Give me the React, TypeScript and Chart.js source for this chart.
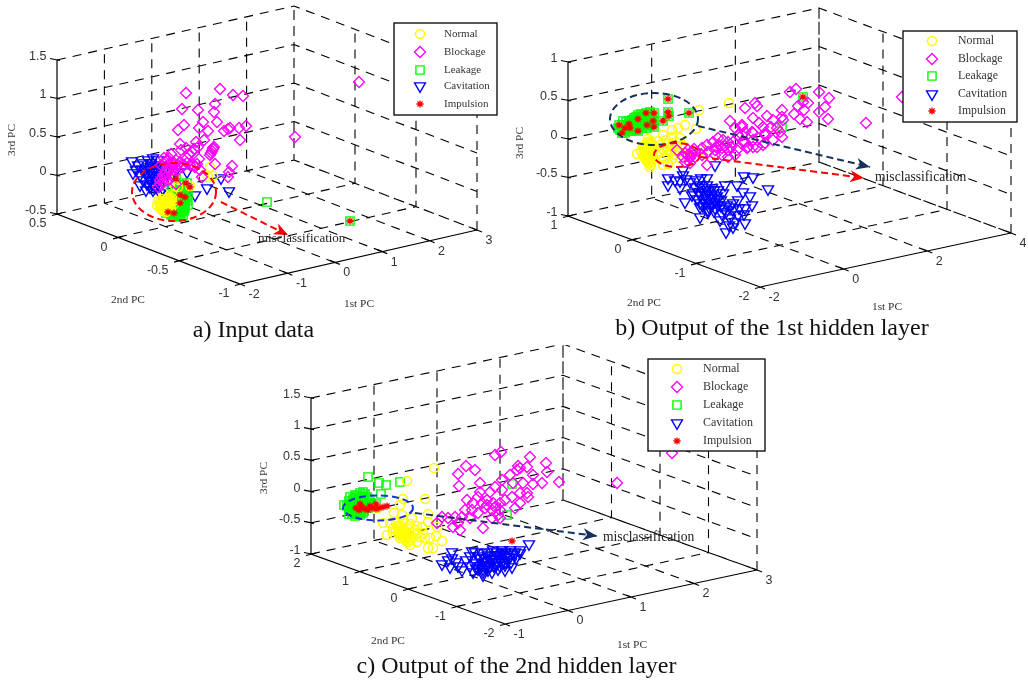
import React, { useEffect, useRef } from "react";
import { Chart, registerables } from "chart.js";
import { drawPoint } from "chart.js/helpers";

Chart.register(...registerables);

type XY = [number, number];

const classNames = ["Normal", "Blockage", "Leakage", "Cavitation", "Impulsion"];

// Panel a: input data, as projected onto the picture plane
const aNormal: XY[] = [[210,167],[208,177],[213,176],[170,187],[175,186],[190,186],[178,187],[160,203],[162,205],[165,206],[168,203],[165,200],[163,208],[167,209],[170,206],[172,202],[168,198],[172,198],[175,200],[160,207],[158,201],[162,199],[164,203],[160,205],[166,204],[168,207],[163,211],[166,212],[171,209],[174,204],[171,200],[169,196],[173,195],[157,205],[161,209],[161,201],[163,201],[165,202],[167,201],[169,201],[161,203],[163,205],[165,204],[167,203],[169,205],[162,207],[164,206],[166,207],[168,209],[170,203],[164,209],[166,209],[170,198],[167,199]];
const aBlockage: XY[] = [[186,93],[220,89],[233,95],[243,96],[182,109],[198,110],[215,104],[214,112],[217,122],[184,125],[178,130],[199,128],[203,122],[208,131],[224,131],[230,128],[228,129],[239,128],[246,126],[240,140],[204,140],[180,144],[181,150],[196,142],[186,148],[199,159],[215,164],[232,166],[229,172],[228,177],[210,155],[213,149],[212,151],[213,148],[214,147],[211,153],[192,152],[194,149],[189,154],[187,158],[198,147],[171,154],[168,160],[165,162],[172,163],[176,160],[180,162],[187,163],[190,165],[195,167],[200,170],[202,177],[182,167],[175,167],[167,168],[163,175],[160,180],[158,187],[163,183],[168,180],[178,170],[170,165],[174,170],[166,172],[172,176],[176,184],[161,165],[164,158],[169,158],[175,164],[178,165],[184,165],[193,165],[197,164],[170,170],[162,178],[165,178],[160,184],[359,82],[295,137]];
const aLeakage: XY[] = [[176,179],[187,183],[172,190],[178,190],[184,190],[172,195],[178,196],[184,196],[188,195],[176,200],[182,201],[187,201],[176,205],[182,206],[188,205],[170,210],[176,211],[182,211],[166,213],[172,214],[179,214],[183,216],[175,193],[181,193],[186,192],[174,198],[179,199],[185,199],[179,203],[185,203],[173,208],[179,208],[185,208],[169,213],[175,213],[181,213],[178,217],[180,185],[177,192],[180,190],[183,192],[176,195],[180,196],[183,197],[178,201],[181,199],[184,201],[178,205],[181,204],[184,206],[175,207],[177,209],[181,209],[183,209],[172,211],[174,211],[178,212],[180,211],[184,211],[171,215],[173,216],[176,215],[180,216],[267,202],[350,221]];
const aCavitation: XY[] = [[132,161],[138,165],[143,163],[148,160],[153,158],[158,160],[136,170],[142,169],[148,167],[154,165],[160,165],[133,173],[140,175],[146,173],[152,172],[158,172],[164,170],[143,180],[149,178],[155,178],[161,176],[140,185],[147,184],[153,184],[159,186],[146,190],[153,190],[160,193],[168,172],[170,178],[151,163],[145,170],[150,170],[156,168],[147,176],[152,175],[158,176],[150,181],[156,181],[150,187],[156,187],[163,189],[195,195],[207,188],[221,178],[229,191],[175,172],[187,172]];
const aImpulsion: XY[] = [[176,179],[186,183],[180,195],[190,187],[168,212],[180,203],[185,197],[174,213],[350,221]];

// Panel b: output of the 1st hidden layer
const bNormal: XY[] = [[729,103],[699,110],[678,128],[696,129],[685,125],[672,130],[663,135],[658,141],[672,137],[680,138],[637,154],[668,164],[663,165],[667,150],[675,150],[685,147],[687,157],[702,150],[645,145],[648,142],[651,145],[645,150],[650,150],[654,150],[643,155],[647,155],[652,155],[648,160],[652,160],[648,163],[651,165],[656,154],[660,145],[664,150],[668,144],[672,145],[668,155],[675,155],[680,152],[664,158],[648,139],[651,141],[643,147],[647,147],[655,146],[641,151],[646,153],[650,153],[654,158],[645,158],[650,167],[666,140],[676,142],[682,145],[670,150],[660,152],[672,159],[680,158],[647,143],[649,145],[652,147],[644,149],[647,150],[650,148],[653,148],[645,152],[648,152],[652,152],[644,157],[647,158],[650,156],[653,156],[646,160],[650,161],[649,158],[650,163]];
const bBlockage: XY[] = [[745,108],[755,103],[757,106],[767,116],[753,118],[730,121],[742,125],[759,123],[763,127],[735,128],[752,132],[745,132],[765,135],[738,135],[723,140],[718,138],[713,142],[707,145],[728,142],[733,142],[753,140],[743,142],[763,145],[753,147],[747,148],[737,150],[728,150],[722,148],[715,150],[708,152],[702,148],[707,165],[728,157],[735,155],[722,155],[715,155],[702,155],[690,158],[695,157],[683,157],[688,150],[677,150],[685,153],[692,153],[685,162],[773,120],[771,127],[782,110],[782,117],[790,92],[796,89],[819,92],[829,98],[798,106],[803,102],[808,103],[804,110],[825,107],[819,112],[794,114],[800,119],[807,122],[828,119],[866,123],[783,120],[780,132],[782,137],[773,140],[765,143],[757,147],[748,147],[753,133],[765,133],[742,127],[742,135],[745,142],[777,128],[902,97],[719,145],[725,146],[731,147],[716,147],[691,156],[688,155],[694,149],[690,163]];
const bLeakage: XY[] = [[668,99],[668,112],[669,116],[689,113],[663,121],[654,113],[653,121],[647,125],[654,127],[646,113],[638,119],[638,131],[629,124],[630,128],[619,125],[622,133],[625,128],[622,125],[626,122],[632,120],[636,117],[641,114],[645,116],[650,112],[640,122],[645,122],[634,125],[628,131],[633,128],[642,128],[648,120],[652,116],[618,128],[620,130],[625,133],[636,130],[644,124],[650,125],[623,121],[628,126],[631,124],[634,122],[637,124],[640,126],[643,120],[638,115],[646,119],[650,118],[641,118],[634,118],[627,129],[631,131],[647,128],[652,124],[622,128],[624,130],[626,125],[629,121],[631,127],[633,120],[635,127],[636,121],[639,124],[639,117],[641,120],[642,124],[643,117],[644,115],[645,126],[646,122],[648,116],[648,122],[650,114],[651,120],[651,116],[652,122],[803,97],[782,127]];
const bCavitation: XY[] = [[683,170],[683,175],[668,178],[668,185],[675,180],[680,188],[690,182],[707,178],[707,185],[725,185],[737,185],[744,176],[753,177],[768,189],[715,165],[738,200],[750,196],[743,192],[685,202],[692,195],[700,217],[708,212],[726,232],[733,227],[745,223],[720,220],[700,207],[695,187],[700,185],[706,190],[712,188],[718,190],[693,193],[699,192],[705,195],[711,194],[717,196],[723,193],[697,199],[703,200],[709,201],[715,202],[721,200],[703,206],[709,207],[715,208],[721,206],[727,205],[733,203],[726,212],[733,210],[739,208],[745,208],[722,214],[730,218],[738,215],[744,214],[752,205],[735,222],[729,225],[680,181],[686,179],[696,180],[701,178],[702,188],[708,192],[714,190],[700,195],[706,198],[712,198],[718,199],[700,203],[706,203],[712,205],[718,205],[708,210],[714,211],[724,209],[730,207]];
const bImpulsion: XY[] = [[668,99],[668,112],[669,116],[689,113],[663,121],[654,113],[653,121],[647,125],[654,127],[646,113],[638,119],[638,131],[629,124],[630,128],[619,125],[622,133],[625,128],[803,97]];

// Panel c: output of the 2nd hidden layer
const cNormal: XY[] = [[434,468],[407,481],[425,499],[403,499],[400,505],[394,513],[402,515],[383,523],[387,535],[442,541],[428,548],[433,548],[417,542],[430,538],[437,527],[428,522],[422,527],[415,530],[423,533],[412,518],[400,525],[393,528],[407,528],[398,533],[403,538],[408,542],[410,545],[400,538],[393,533],[405,532],[413,537],[420,537],[390,523],[428,514],[377,508],[396,523],[403,522],[410,524],[396,530],[402,530],[409,534],[402,535],[406,537],[411,540],[405,540],[399,535],[417,533],[417,526],[425,538],[436,536],[400,531],[403,533],[406,535],[404,529],[401,527],[397,526],[408,538],[404,536]];
const cBlockage: XY[] = [[495,455],[501,452],[466,466],[475,470],[458,474],[459,486],[530,457],[546,463],[547,472],[559,482],[617,483],[542,483],[533,475],[533,484],[527,467],[518,466],[520,468],[517,470],[510,475],[502,480],[480,483],[527,493],[528,497],[520,493],[513,483],[523,483],[512,497],[502,490],[495,487],[480,492],[478,497],[490,492],[467,500],[473,503],[482,503],[487,500],[493,503],[500,503],[505,500],[520,503],[515,508],[500,510],[492,510],[485,508],[478,513],[472,510],[465,510],[462,517],[470,518],[455,517],[448,518],[442,517],[458,523],[453,527],[460,530],[483,528],[500,518],[492,518],[498,515],[487,505],[495,507],[437,523],[672,453]];
const cLeakage: XY[] = [[368,477],[379,483],[386,485],[400,482],[381,494],[376,504],[363,492],[344,505],[350,497],[355,495],[360,493],[365,494],[352,502],[358,501],[364,500],[369,499],[347,506],[353,507],[359,506],[365,505],[371,503],[352,512],[358,512],[364,511],[355,516],[360,515],[368,508],[349,501],[355,498],[361,497],[367,497],[355,504],[361,503],[350,509],[356,509],[362,509],[367,504],[349,514],[355,513],[361,513],[353,499],[357,496],[359,499],[363,496],[351,504],[354,501],[357,503],[360,501],[363,503],[349,507],[352,509],[354,506],[357,507],[360,508],[362,505],[365,508],[352,514],[355,511],[357,514],[360,511],[363,513],[507,515],[512,484]];
const cCavitation: XY[] = [[529,544],[452,552],[472,551],[482,553],[442,564],[450,567],[462,570],[483,575],[505,570],[502,550],[520,550],[452,558],[456,562],[448,560],[458,566],[466,560],[470,556],[475,552],[480,558],[476,563],[470,566],[482,565],[488,562],[492,556],[487,552],[493,550],[497,555],[500,560],[494,566],[488,570],[478,569],[500,566],[505,562],[510,557],[505,552],[510,550],[515,552],[520,553],[516,558],[511,562],[505,565],[512,567],[498,569],[492,572],[483,572],[473,572],[478,556],[484,558],[490,560],[495,558],[500,555],[505,557],[484,562],[490,566],[496,562],[502,563],[508,560],[480,566],[486,568],[514,555],[508,553],[476,568],[497,552],[502,553],[488,555],[492,559],[496,565],[487,565],[483,569]];
const cImpulsion: XY[] = [[356,508],[359,510],[362,507],[365,509],[368,510],[372,508],[376,509],[379,508],[383,507],[387,506],[360,504],[376,504],[370,506],[512,541]];

// Axis ticks
const aTicks1 = [-2, -1, 0, 1, 2, 3];
const aTicks2 = [-1, -0.5, 0, 0.5];
const aTicks3 = [-0.5, 0, 0.5, 1, 1.5];
const bTicks1 = [-2, 0, 2, 4];
const bTicks2 = [-2, -1, 0, 1];
const bTicks3 = [-1, -0.5, 0, 0.5, 1];
const cTicks1 = [-1, 0, 1, 2, 3];
const cTicks2 = [-2, -1, 0, 1, 2];
const cTicks3 = [-1, -0.5, 0, 0.5, 1, 1.5];

const colors = { yellow: "#ffff00", magenta: "#ff00ff", green: "#00ff00", blue: "#0000ff", red: "#ff0000", navy: "#17315f", ringBlue: "#1236d8" };
const SERIF = '"Liberation Serif", "Times New Roman", serif';
const SANS = '"Liberation Sans", Arial, sans-serif';
const TICK_COLOR = "#333333";

type Panel = {
  box: { left: number; top: number; w: number; h: number };
  F: XY; L: XY; R: XY; H: number;
  t1: number[]; t2: number[]; t3: number[];
  series: XY[][];
  ellipses: { c: XY; rx: number; ry: number; color: string }[];
  arrows: { from: XY; to: XY; color: string }[];
  note: { x: number; y: number; size: number };
  legend: { x0: number; y0: number; x1: number; y1: number; mx: number; tx: number; rows: number[]; size: number };
  labels: { third: XY; second: XY; first: XY };
  caption: { text: string; x: number; y: number };
};

const panels: Panel[] = [
  {
    box: { left: 0, top: 0, w: 505, h: 345 },
    F: [240, 284], L: [57, 214], R: [477, 230], H: 154,
    t1: aTicks1, t2: aTicks2, t3: aTicks3,
    series: [aNormal, aBlockage, aLeakage, aCavitation, aImpulsion],
    ellipses: [{ c: [174, 192], rx: 42, ry: 29, color: colors.red }],
    arrows: [{ from: [221, 202], to: [288, 235], color: colors.red }],
    note: { x: 258, y: 239, size: 13 },
    legend: { x0: 394, y0: 23, x1: 497, y1: 115, mx: 420, tx: 444, rows: [34, 52, 70, 86, 104], size: 11 },
    labels: { third: [12, 140], second: [128, 300], first: [359, 304] },
    caption: { text: "a) Input data", x: 253.5, y: 331 },
  },
  {
    box: { left: 505, top: 0, w: 523, h: 345 },
    F: [760, 287], L: [568, 216], R: [1011, 233], H: 154,
    t1: bTicks1, t2: bTicks2, t3: bTicks3,
    series: [bNormal, bBlockage, bLeakage, bCavitation, bImpulsion],
    ellipses: [
      { c: [654, 119], rx: 44, ry: 26, color: colors.navy },
      { c: [677, 155], rx: 23, ry: 12, color: colors.red },
    ],
    arrows: [
      { from: [698, 126], to: [870, 167], color: colors.navy },
      { from: [701, 157], to: [864, 178], color: colors.red },
    ],
    note: { x: 875, y: 177, size: 13.6 },
    legend: { x0: 903, y0: 31, x1: 1017, y1: 122, mx: 932, tx: 958, rows: [41, 59, 76, 94, 111], size: 11.8 },
    labels: { third: [520, 143], second: [644, 303], first: [887, 307] },
    caption: { text: "b) Output of the 1st hidden layer", x: 772, y: 329 },
  },
  {
    box: { left: 260, top: 345, w: 540, h: 336 },
    F: [505, 624], L: [311, 554], R: [757, 570], H: 156,
    t1: cTicks1, t2: cTicks2, t3: cTicks3,
    series: [cNormal, cBlockage, cLeakage, cCavitation, cImpulsion],
    ellipses: [{ c: [378, 508], rx: 35, ry: 12.5, color: colors.ringBlue }],
    arrows: [{ from: [415, 513], to: [597, 536], color: colors.navy }],
    note: { x: 603, y: 537, size: 13.6 },
    legend: { x0: 648, y0: 359, x1: 765, y1: 451, mx: 677, tx: 703, rows: [369, 387, 405, 423, 441], size: 12 },
    labels: { third: [264, 478], second: [388, 641], first: [632, 645] },
    caption: { text: "c) Output of the 2nd hidden layer", x: 516.5, y: 667 },
  },
];

const markers = [
  { pointStyle: "circle", radius: 4.5, rotation: 0, color: colors.yellow, width: 1.4 },
  { pointStyle: "rectRot", radius: 5.5, rotation: 0, color: colors.magenta, width: 1.3 },
  { pointStyle: "rect", radius: 5.8, rotation: 0, color: colors.green, width: 1.4 },
  { pointStyle: "triangle", radius: 6.3, rotation: 180, color: colors.blue, width: 1.4 },
  { pointStyle: "star", radius: 3.6, rotation: 0, color: colors.red, width: 1.3 },
];
const drawOrder = [30, 20, 40, 50, 10];

function project(p: Panel, a: number, b: number, c: number): { x: number; y: number } {
  const t1 = p.t1, t2 = p.t2, t3 = p.t3;
  const u = (a - t1[0]) / (t1[t1.length - 1] - t1[0]);
  const v = (b - t2[0]) / (t2[t2.length - 1] - t2[0]);
  const w = (c - t3[0]) / (t3[t3.length - 1] - t3[0]);
  return {
    x: p.F[0] + u * (p.R[0] - p.F[0]) + v * (p.L[0] - p.F[0]),
    y: p.F[1] + u * (p.R[1] - p.F[1]) + v * (p.L[1] - p.F[1]) - w * p.H,
  };
}

const gap = { x: NaN, y: NaN };

function gridLines(p: Panel) {
  const [a0, a1] = [p.t1[0], p.t1[p.t1.length - 1]];
  const [b0, b1] = [p.t2[0], p.t2[p.t2.length - 1]];
  const [c0, c1] = [p.t3[0], p.t3[p.t3.length - 1]];
  const out: { x: number; y: number }[] = [];
  p.t1.forEach((a) => {
    if (a !== a0) out.push(project(p, a, b0, c0), project(p, a, b1, c0), project(p, a, b1, c1), gap);
  });
  p.t2.forEach((b) => {
    if (b !== b0) out.push(project(p, a0, b, c0), project(p, a1, b, c0), project(p, a1, b, c1), gap);
    else out.push(project(p, a1, b, c0), project(p, a1, b, c1), gap);
  });
  p.t3.forEach((c) => {
    out.push(project(p, a0, b1, c), project(p, a1, b1, c), project(p, a1, b0, c), gap);
  });
  return out;
}

function axisLines(p: Panel) {
  const [a0, a1] = [p.t1[0], p.t1[p.t1.length - 1]];
  const [b0, b1] = [p.t2[0], p.t2[p.t2.length - 1]];
  const [c0, c1] = [p.t3[0], p.t3[p.t3.length - 1]];
  const out: { x: number; y: number }[] = [
    project(p, a0, b1, c1), project(p, a0, b1, c0), project(p, a0, b0, c0), project(p, a1, b0, c0), gap,
  ];
  p.t3.forEach((c) => {
    const q = project(p, a0, b1, c);
    out.push({ x: q.x - 7, y: q.y - 1.5 }, { x: q.x + 3, y: q.y + 0.5 }, gap);
  });
  p.t2.forEach((b) => {
    const q = project(p, a0, b, c0);
    out.push({ x: q.x - 5, y: q.y + 1.5 }, { x: q.x + 5, y: q.y - 1 }, gap);
  });
  p.t1.forEach((a) => {
    const q = project(p, a, b0, c0);
    out.push({ x: q.x - 5, y: q.y - 2 }, { x: q.x + 5, y: q.y + 2 }, gap);
  });
  return out;
}

function panelPlugin(p: Panel) {
  return {
    id: "panelDecor",
    afterDatasetsDraw(chart: any) {
      const ctx: CanvasRenderingContext2D = chart.ctx;
      const sx = chart.scales.x;
      const sy = chart.scales.y;
      const X = (v: number) => sx.getPixelForValue(v);
      const Y = (v: number) => sy.getPixelForValue(v);
      ctx.save();

      p.ellipses.forEach((e) => {
        ctx.beginPath();
        ctx.ellipse(X(e.c[0]), Y(e.c[1]), e.rx, e.ry, 0, 0, Math.PI * 2);
        ctx.strokeStyle = e.color;
        ctx.lineWidth = 2;
        ctx.setLineDash([7, 4]);
        ctx.stroke();
      });
      ctx.setLineDash([]);

      // arrow heads
      p.arrows.forEach((a) => {
        const tx = X(a.to[0]);
        const ty = Y(a.to[1]);
        const ang = Math.atan2(Y(a.to[1]) - Y(a.from[1]), X(a.to[0]) - X(a.from[0]));
        ctx.save();
        ctx.translate(tx, ty);
        ctx.rotate(ang);
        ctx.beginPath();
        ctx.moveTo(0, 0);
        ctx.lineTo(-14, -6);
        ctx.lineTo(-10, 0);
        ctx.lineTo(-14, 6);
        ctx.closePath();
        ctx.fillStyle = a.color;
        ctx.fill();
        ctx.restore();
      });

      // tick labels
      ctx.fillStyle = TICK_COLOR;
      ctx.font = `12.5px ${SANS}`;
      ctx.textBaseline = "middle";
      ctx.textAlign = "right";
      p.t3.forEach((c) => {
        const q = project(p, p.t1[0], p.t2[p.t2.length - 1], c);
        ctx.fillText(String(c), X(q.x) - 10.5, Y(q.y) - 3.5);
      });
      p.t2.forEach((b) => {
        const q = project(p, p.t1[0], b, p.t3[0]);
        ctx.fillText(String(b), X(q.x) - 10.5, Y(q.y) + 10);
      });
      ctx.textAlign = "left";
      p.t1.forEach((a) => {
        const q = project(p, a, p.t2[0], p.t3[0]);
        ctx.fillText(String(a), X(q.x) + 8.5, Y(q.y) + 10.5);
      });

      // axis titles
      ctx.textAlign = "center";
      ctx.font = `11.4px ${SERIF}`;
      ctx.fillStyle = TICK_COLOR;
      ctx.fillText("2nd PC", X(p.labels.second[0]), Y(p.labels.second[1]));
      ctx.fillText("1st PC", X(p.labels.first[0]), Y(p.labels.first[1]));
      ctx.save();
      ctx.translate(X(p.labels.third[0]), Y(p.labels.third[1]));
      ctx.rotate(-Math.PI / 2);
      ctx.fillText("3rd PC", 0, 0);
      ctx.restore();

      // callout
      ctx.textAlign = "left";
      ctx.font = `${p.note.size}px ${SERIF}`;
      ctx.fillStyle = "#222222";
      ctx.fillText("misclassification", X(p.note.x), Y(p.note.y));

      // legend
      const lg = p.legend;
      ctx.fillStyle = "#ffffff";
      ctx.fillRect(X(lg.x0), Y(lg.y0), lg.x1 - lg.x0, lg.y1 - lg.y0);
      ctx.strokeStyle = "#000000";
      ctx.lineWidth = 1.3;
      ctx.strokeRect(X(lg.x0), Y(lg.y0), lg.x1 - lg.x0, lg.y1 - lg.y0);
      classNames.forEach((name, i) => {
        const m = markers[i];
        ctx.save();
        ctx.strokeStyle = m.color;
        ctx.fillStyle = "rgba(0,0,0,0)";
        ctx.lineWidth = m.width;
        drawPoint(ctx, { pointStyle: m.pointStyle, radius: m.radius, rotation: m.rotation, borderWidth: m.width } as any, X(lg.mx), Y(lg.rows[i]));
        ctx.restore();
        ctx.fillStyle = TICK_COLOR;
        ctx.font = `${lg.size}px ${SERIF}`;
        ctx.fillText(name, X(lg.tx), Y(lg.rows[i]));
      });

      // caption
      ctx.textAlign = "center";
      ctx.fillStyle = "#111111";
      ctx.font = `24px ${SERIF}`;
      ctx.fillText(p.caption.text, X(p.caption.x), Y(p.caption.y));
      ctx.restore();
    },
  };
}

function buildDatasets(p: Panel) {
  const line = (label: string, data: any[], order: number, color: string, width: number, dash: number[]) => ({
    label, data, order, showLine: true, borderColor: color, borderWidth: width, borderDash: dash,
    pointRadius: 0, fill: false, spanGaps: false, tension: 0,
  });
  const sets: any[] = [
    line("grid", gridLines(p), 100, "#000000", 1.1, [9, 7]),
    line("axes", axisLines(p), 90, "#000000", 1.2, []),
  ];
  p.series.forEach((pts, i) => {
    const m = markers[i];
    sets.push({
      label: classNames[i],
      data: pts.map(([x, y]) => ({ x, y })),
      order: drawOrder[i],
      showLine: false,
      pointStyle: m.pointStyle,
      pointRadius: m.radius,
      pointRotation: m.rotation,
      pointBorderColor: m.color,
      pointBackgroundColor: "rgba(0,0,0,0)",
      pointBorderWidth: m.width,
    });
  });
  p.arrows.forEach((a) => {
    sets.push(line("misclassification arrow", [{ x: a.from[0], y: a.from[1] }, { x: a.to[0], y: a.to[1] }], 5, a.color, 2, [7, 4]));
  });
  return sets;
}

function PanelChart({ panel }: { panel: Panel }) {
  const ref = useRef<HTMLCanvasElement | null>(null);
  useEffect(() => {
    if (!ref.current) return;
    const b = panel.box;
    const chart = new Chart(ref.current, {
      type: "scatter",
      data: { datasets: buildDatasets(panel) },
      options: {
        animation: false,
        responsive: false,
        devicePixelRatio: 1,
        events: [],
        layout: { padding: 0, autoPadding: false },
        plugins: { legend: { display: false }, tooltip: { enabled: false }, title: { display: false } },
        scales: {
          x: { type: "linear", display: false, min: b.left, max: b.left + b.w },
          y: { type: "linear", display: false, min: b.top, max: b.top + b.h, reverse: true },
        },
      },
      plugins: [panelPlugin(panel)],
    } as any);
    return () => chart.destroy();
  }, [panel]);
  const b = panel.box;
  return (
    <canvas
      ref={ref}
      width={b.w}
      height={b.h}
      style={{ position: "absolute", left: b.left, top: b.top, width: b.w, height: b.h, display: "block" }}
    />
  );
}

export default function App() {
  return (
    <div style={{ position: "absolute", left: 0, top: 0, width: 1028, height: 681, background: "#ffffff", overflow: "hidden" }}>
      {panels.map((p, i) => (
        <PanelChart key={i} panel={p} />
      ))}
    </div>
  );
}
